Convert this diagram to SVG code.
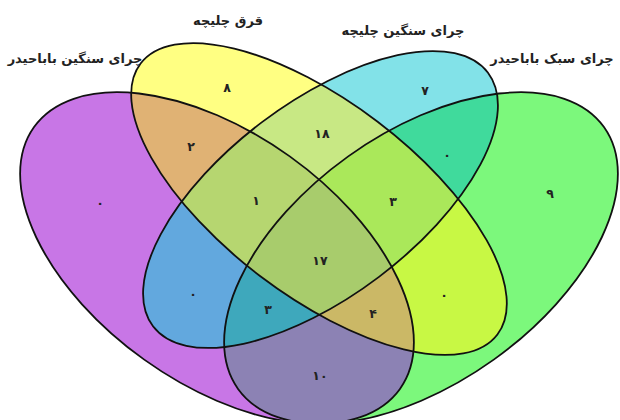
<svg xmlns="http://www.w3.org/2000/svg" width="620" height="420" viewBox="0 0 620 420">
<style>
.outline{fill:none;stroke:#111;stroke-width:1.8}
.label{font-family:"DejaVu Sans","Noto Sans",sans-serif;font-weight:bold;font-size:13px;fill:#222;text-anchor:middle}
.num{font-family:"DejaVu Sans","Noto Sans",sans-serif;font-weight:bold;font-size:12.5px;fill:#222;text-anchor:middle}
</style>
<defs>
<ellipse id="eA" cx="217" cy="258" rx="225" ry="125" transform="rotate(35.6 217 258)"/>
<ellipse id="eB" cx="319" cy="199" rx="224" ry="97" transform="rotate(37.2 319 199)"/>
<ellipse id="eC" cx="320.5" cy="199.5" rx="210" ry="97" transform="rotate(-37.1 320.5 199.5)"/>
<ellipse id="eD" cx="421" cy="258" rx="225" ry="125" transform="rotate(-35.6 421 258)"/>
<clipPath id="cA"><use href="#eA"/></clipPath>
<clipPath id="cB"><use href="#eB"/></clipPath>
<clipPath id="cC"><use href="#eC"/></clipPath>
<clipPath id="cD"><use href="#eD"/></clipPath>
</defs>
<rect width="620" height="420" fill="#fff"/>
<g id="regions">
<use href="#eA" fill="#C876E6"/>
<use href="#eD" fill="#7CF87C"/>
<use href="#eB" fill="#FFFF82"/>
<use href="#eC" fill="#82E2E8"/>
<g clip-path="url(#cA)"><use href="#eB" fill="#E0B274"/></g>
<g clip-path="url(#cA)"><use href="#eC" fill="#62A8DE"/></g>
<g clip-path="url(#cA)"><use href="#eD" fill="#8C82B4"/></g>
<g clip-path="url(#cB)"><use href="#eC" fill="#C8E884"/></g>
<g clip-path="url(#cB)"><use href="#eD" fill="#C8F844"/></g>
<g clip-path="url(#cC)"><use href="#eD" fill="#40DA9C"/></g>
<g clip-path="url(#cA)"><g clip-path="url(#cB)"><use href="#eC" fill="#B6D670"/></g></g>
<g clip-path="url(#cA)"><g clip-path="url(#cB)"><use href="#eD" fill="#CBB866"/></g></g>
<g clip-path="url(#cA)"><g clip-path="url(#cC)"><use href="#eD" fill="#3EA8BC"/></g></g>
<g clip-path="url(#cB)"><g clip-path="url(#cC)"><use href="#eD" fill="#AAE85A"/></g></g>
<g clip-path="url(#cA)"><g clip-path="url(#cB)"><g clip-path="url(#cC)"><use href="#eD" fill="#A8CC6C"/></g></g></g>
</g>
<g id="set-A">
<use href="#eA" class="outline"/>
<text class="label" x="75" y="63">چرای سنگین باباحیدر</text>
</g>
<g id="set-B">
<use href="#eB" class="outline"/>
<text class="label" x="228" y="25">قرق چلیچه</text>
</g>
<g id="set-C">
<use href="#eC" class="outline"/>
<text class="label" x="403" y="35">چرای سنگین چلیچه</text>
</g>
<g id="set-D">
<use href="#eD" class="outline"/>
<text class="label" x="552" y="63">چرای سبک باباحیدر</text>
</g>
<g id="counts">
<text class="num" x="227" y="92">۸</text>
<text class="num" x="425" y="95">۷</text>
<text class="num" x="191" y="151">۲</text>
<text class="num" x="322" y="138">۱۸</text>
<text class="num" x="447" y="159">۰</text>
<text class="num" x="100" y="207">۰</text>
<text class="num" x="256" y="205">۱</text>
<text class="num" x="393" y="206">۳</text>
<text class="num" x="550" y="198">۹</text>
<text class="num" x="320" y="265">۱۷</text>
<text class="num" x="193" y="298">۰</text>
<text class="num" x="444" y="299">۰</text>
<text class="num" x="268" y="314">۳</text>
<text class="num" x="373" y="318">۴</text>
<text class="num" x="320" y="380">۱۰</text>
</g>
</svg>
